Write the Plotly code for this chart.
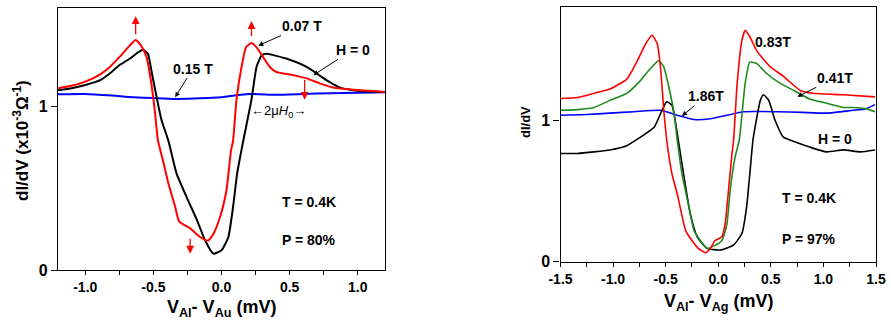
import plotly.graph_objects as go

# ---------------- Left panel data (Al / Au, P = 80%) ----------------
left_h0_x = [-1.2, -1.1, -1.0, -0.89, -0.82, -0.75, -0.674, -0.61, -0.576, -0.54, -0.515, -0.475, -0.44, -0.39,
             -0.33, -0.257, -0.18, -0.12, -0.06, 0.0, 0.05, 0.085, 0.115, 0.16, 0.22, 0.257, 0.294, 0.33, 0.48,
             0.625, 0.77, 0.87, 1.017, 1.2]
left_h0_y = [1.097, 1.11, 1.13, 1.16, 1.20, 1.25, 1.29, 1.33, 1.345, 1.32, 1.22, 1.05, 0.915, 0.79,
             0.59, 0.447, 0.305, 0.18, 0.10, 0.12, 0.20, 0.386, 0.59, 0.79, 1.04, 1.24, 1.31, 1.32, 1.29,
             1.24, 1.16, 1.114, 1.093, 1.087]

left_007_x = [-1.2, -1.1, -1.0, -0.89, -0.82, -0.75, -0.674, -0.63, -0.59, -0.55, -0.515, -0.49, -0.466, -0.43,
              -0.39, -0.34, -0.31, -0.23, -0.16, -0.10, -0.06, -0.01, 0.037, 0.07, 0.085, 0.11, 0.147, 0.18,
              0.22, 0.257, 0.306, 0.355, 0.40, 0.526, 0.625, 0.72, 0.82, 0.97, 1.2]
left_007_y = [1.11, 1.125, 1.15, 1.195, 1.24, 1.30, 1.37, 1.405, 1.37, 1.30, 1.14, 0.976, 0.79, 0.67,
              0.53, 0.386, 0.295, 0.254, 0.203, 0.18, 0.22, 0.325, 0.49, 0.73, 0.79, 1.04, 1.24, 1.36,
              1.386, 1.36, 1.30, 1.24, 1.21, 1.19, 1.17, 1.14, 1.114, 1.10, 1.087]

left_015_x = [-1.2, -1.0, -0.8, -0.65, -0.5, -0.35, -0.2, 0.0, 0.2, 0.4, 0.6, 0.8, 1.0, 1.2]
left_015_y = [1.073, 1.075, 1.065, 1.055, 1.05, 1.045, 1.048, 1.055, 1.075, 1.07, 1.075, 1.08, 1.083, 1.085]

left_xticks = [-1.0, -0.5, 0.0, 0.5, 1.0]
left_xticklabels = ["-1.0", "-0.5", "0.0", "0.5", "1.0"]
left_yticks = [0, 1]

# ---------------- Right panel data (Al / Ag, P = 97%) ----------------
right_h0_x = [-1.5, -1.34, -1.18, -1.03, -0.87, -0.74, -0.61, -0.535, -0.49, -0.44, -0.41, -0.38, -0.33, -0.266,
              -0.20, -0.107, 0.02, 0.146, 0.225, 0.27, 0.30, 0.33, 0.35, 0.40, 0.43, 0.48, 0.54, 0.62, 0.72,
              0.87, 1.03, 1.19, 1.35, 1.49]
right_h0_y = [0.765, 0.765, 0.776, 0.79, 0.82, 0.88, 0.95, 1.07, 1.13, 1.105, 1.0, 0.86, 0.62, 0.34,
              0.176, 0.094, 0.083, 0.118, 0.20, 0.39, 0.62, 0.86, 0.95, 1.14, 1.18, 1.14, 1.0, 0.88, 0.85,
              0.81, 0.776, 0.79, 0.776, 0.79]

right_041_x = [-1.5, -1.34, -1.18, -1.03, -0.87, -0.74, -0.645, -0.567, -0.52, -0.47, -0.42, -0.39, -0.345, -0.28,
               -0.23, -0.17, -0.107, -0.045, 0.035, 0.083, 0.114, 0.16, 0.2, 0.256, 0.30, 0.367, 0.46, 0.59,
               0.72, 0.87, 1.03, 1.19, 1.28, 1.41, 1.49]
right_041_y = [1.07, 1.075, 1.09, 1.14, 1.19, 1.28, 1.365, 1.42, 1.38, 1.235, 1.05, 0.86, 0.62, 0.39,
               0.22, 0.15, 0.094, 0.11, 0.15, 0.27, 0.51, 0.74, 0.86, 1.26, 1.41, 1.40, 1.33, 1.26,
               1.21, 1.15, 1.12, 1.09, 1.09, 1.08, 1.06]

right_083_x = [-1.5, -1.34, -1.18, -1.03, -0.87, -0.77, -0.69, -0.63, -0.58, -0.55, -0.52, -0.49, -0.44, -0.39,
               -0.31, -0.25, -0.19, -0.12, -0.076, -0.03, 0.035, 0.066, 0.098, 0.13, 0.146, 0.18, 0.225, 0.256,
               0.30, 0.367, 0.49, 0.62, 0.78, 0.90, 1.19, 1.49]
right_083_y = [1.153, 1.16, 1.19, 1.22, 1.29, 1.42, 1.54, 1.60, 1.54, 1.38, 1.09, 0.86, 0.62, 0.48,
               0.22, 0.15, 0.094, 0.064, 0.094, 0.15, 0.176, 0.27, 0.51, 0.76, 0.86, 1.26, 1.565, 1.635,
               1.59, 1.49, 1.38, 1.31, 1.21, 1.19, 1.18, 1.165]

right_186_x = [-1.5, -1.25, -1.03, -0.8, -0.55, -0.39, -0.23, -0.076, 0.083, 0.24, 0.56, 0.8, 1.03, 1.28, 1.4, 1.49]
right_186_y = [1.035, 1.04, 1.05, 1.06, 1.07, 1.035, 1.005, 1.01, 1.035, 1.06, 1.06, 1.055, 1.05, 1.07, 1.08, 1.11]

right_xticks = [-1.5, -1.0, -0.5, 0.0, 0.5, 1.0, 1.5]
right_xticklabels = ["-1.5", "-1.0", "-0.5", "0.0", "0.5", "1.0", "1.5"]
right_yticks = [0, 1]

FONT = "Liberation Sans, Arial, sans-serif"
RED = "#ff0000"
BLUE = "#0000ff"
GREEN = "#1f8a1f"
BLACK = "#000000"

fig = go.Figure()

def line(x, y, color, xa, ya, w=2):
    fig.add_trace(go.Scatter(x=x, y=y, mode="lines", xaxis=xa, yaxis=ya,
                             line=dict(color=color, width=w, shape="spline", smoothing=0.5),
                             showlegend=False, hoverinfo="skip"))

line(left_015_x, left_015_y, BLUE, "x", "y")
line(left_h0_x, left_h0_y, BLACK, "x", "y")
line(left_007_x, left_007_y, RED, "x", "y")

line(right_186_x, right_186_y, BLUE, "x2", "y2", 1.6)
line(right_h0_x, right_h0_y, BLACK, "x2", "y2", 1.6)
line(right_041_x, right_041_y, GREEN, "x2", "y2", 1.6)
line(right_083_x, right_083_y, RED, "x2", "y2", 1.6)

tickfont = dict(family=FONT, size=14, color="black", weight="bold")

def xax(domain, rng, tv, tt, anchor):
    return dict(domain=domain, range=rng, anchor=anchor, tickvals=tv, ticktext=tt, ticks="outside",
                ticklen=4, tickwidth=1, tickcolor="black", showline=True, linecolor="black", linewidth=1.2,
                mirror=True, showgrid=False, zeroline=False, tickfont=tickfont, automargin=False,
                minor=dict(dtick=0.25, tick0=0, ticks="outside", ticklen=4, tickcolor="black", showgrid=False))

def xtop(rng, overlay, anchor):
    return dict(range=rng, overlaying=overlay, anchor=anchor, side="top", ticks="inside", ticklen=5,
                tickcolor="black", dtick=0.25, tick0=0, showticklabels=False, showgrid=False,
                zeroline=False, showline=False, automargin=False)

def yax(domain, rng, tv, anchor):
    return dict(domain=domain, range=rng, anchor=anchor, tickvals=tv, ticks="outside", ticklen=6,
                tickwidth=1, tickcolor="black", showline=True, linecolor="black", linewidth=1.2,
                mirror=True, showgrid=False, zeroline=False, automargin=False,
                tickfont=dict(family=FONT, size=16, color="black", weight="bold"))

def yright(rng, overlay, anchor):
    return dict(range=rng, overlaying=overlay, anchor=anchor, side="right", ticks="inside", ticklen=6,
                tickcolor="black", tickvals=[1], showticklabels=False, showgrid=False, zeroline=False,
                showline=False, automargin=False)

L_RANGE = [-1.2, 1.2]
R_RANGE = [-1.5, 1.5]

fig.update_layout(
    width=891, height=324,
    margin=dict(l=0, r=0, t=0, b=0, autoexpand=False),
    paper_bgcolor="white", plot_bgcolor="white",
    font=dict(family=FONT, color="black"),
    xaxis=xax([58/891, 385/891], L_RANGE, left_xticks, left_xticklabels, "y"),
    yaxis=yax([54/324, 316/324], [0, 1.6], left_yticks, "x"),
    xaxis3=xtop(L_RANGE, "x", "y"),
    yaxis3=yright([0, 1.6], "y", "x"),
    xaxis2=xax([560.5/891, 876/891], R_RANGE, right_xticks, right_xticklabels, "y2"),
    yaxis2=yax([62.3/324, 317/324], [0, 1.8], right_yticks, "x2"),
    xaxis4=xtop(R_RANGE, "x2", "y2"),
    yaxis4=yright([0, 1.8], "y2", "x2"),
)

ann = []
bold14 = dict(family=FONT, size=14, color="black", weight="bold")

def paper_text(x_px, y_px, text, font, angle=0):
    ann.append(dict(xref="paper", yref="paper", x=x_px/891, y=(324-y_px)/324, xanchor="center",
                    yanchor="middle", textangle=angle, showarrow=False, text=text, font=font))

# axis titles
paper_text(21, 141, "dI/dV (x10<sup>-3</sup>Ω<sup>-1</sup>)",
           dict(family=FONT, size=17, color="black", weight="bold"), -90)
paper_text(525, 122, "dI/dV", dict(family=FONT, size=13, color="black", weight="bold"), -90)
paper_text(221.7, 308, "V<sub>Al</sub>- V<sub>Au</sub> (mV)",
           dict(family=FONT, size=18, color="black", weight="bold"))
paper_text(718, 302, "V<sub>Al</sub>- V<sub>Ag</sub> (mV)",
           dict(family=FONT, size=18, color="black", weight="bold"))

# labels with arrows
def arrow_label(text, tipx, tipy, tx, ty, xr, yr):
    ann.append(dict(xref=xr, yref=yr, axref=xr, ayref=yr, x=tipx, y=tipy, ax=tx, ay=ty, text=text,
                    showarrow=True, arrowhead=2, arrowsize=1, arrowwidth=1, arrowcolor="black",
                    standoff=0, font=bold14))

arrow_label("0.15 T", -0.34, 1.055, -0.21, 1.23, "x", "y")
arrow_label("0.07 T", 0.27, 1.37, 0.594, 1.49, "x", "y")
arrow_label("H = 0", 0.674, 1.19, 0.963, 1.345, "x", "y")

ann.append(dict(xref="x", yref="y", x=0.42, y=0.965, showarrow=False, xanchor="center", yanchor="middle",
                text="←2μ<i>H</i><sub>0</sub>→", font=dict(family=FONT, size=13, color="black")))
ann.append(dict(xref="x", yref="y", x=0.43, y=0.416, xanchor="left", yanchor="middle", showarrow=False,
                text="T = 0.4K", font=bold14))
ann.append(dict(xref="x", yref="y", x=0.43, y=0.183, xanchor="left", yanchor="middle", showarrow=False,
                text="P = 80%", font=bold14))

# red arrows (direction of shift)
def red_arrow(x0, y0, x1, y1):
    ann.append(dict(xref="x", yref="y", axref="x", ayref="y", x=x1, y=y1, ax=x0, ay=y0, text="",
                    showarrow=True, arrowhead=2, arrowsize=1.2, arrowwidth=1.3, arrowcolor=RED))

red_arrow(-0.63, 1.43, -0.63, 1.55)
red_arrow(0.22, 1.42, 0.22, 1.52)
red_arrow(0.61, 1.17, 0.61, 1.04)
red_arrow(-0.23, 0.20, -0.23, 0.10)

# right panel labels
ann.append(dict(xref="x2", yref="y2", x=0.52, y=1.55, xanchor="center", yanchor="middle", showarrow=False,
                text="0.83T", font=bold14))
arrow_label("0.41T", 0.753, 1.165, 1.11, 1.30, "x2", "y2")
arrow_label("1.86T", -0.345, 1.03, -0.116, 1.17, "x2", "y2")
ann.append(dict(xref="x2", yref="y2", x=1.11, y=0.864, xanchor="center", yanchor="middle", showarrow=False,
                text="H = 0", font=bold14))
ann.append(dict(xref="x2", yref="y2", x=0.59, y=0.447, xanchor="left", yanchor="middle", showarrow=False,
                text="T = 0.4K", font=bold14))
ann.append(dict(xref="x2", yref="y2", x=0.59, y=0.16, xanchor="left", yanchor="middle", showarrow=False,
                text="P = 97%", font=bold14))

fig.update_layout(annotations=ann)

fig.write_html("out.html", config={"displayModeBar": False},
               post_script="document.body.style.margin='0';document.body.style.overflow='hidden';")
